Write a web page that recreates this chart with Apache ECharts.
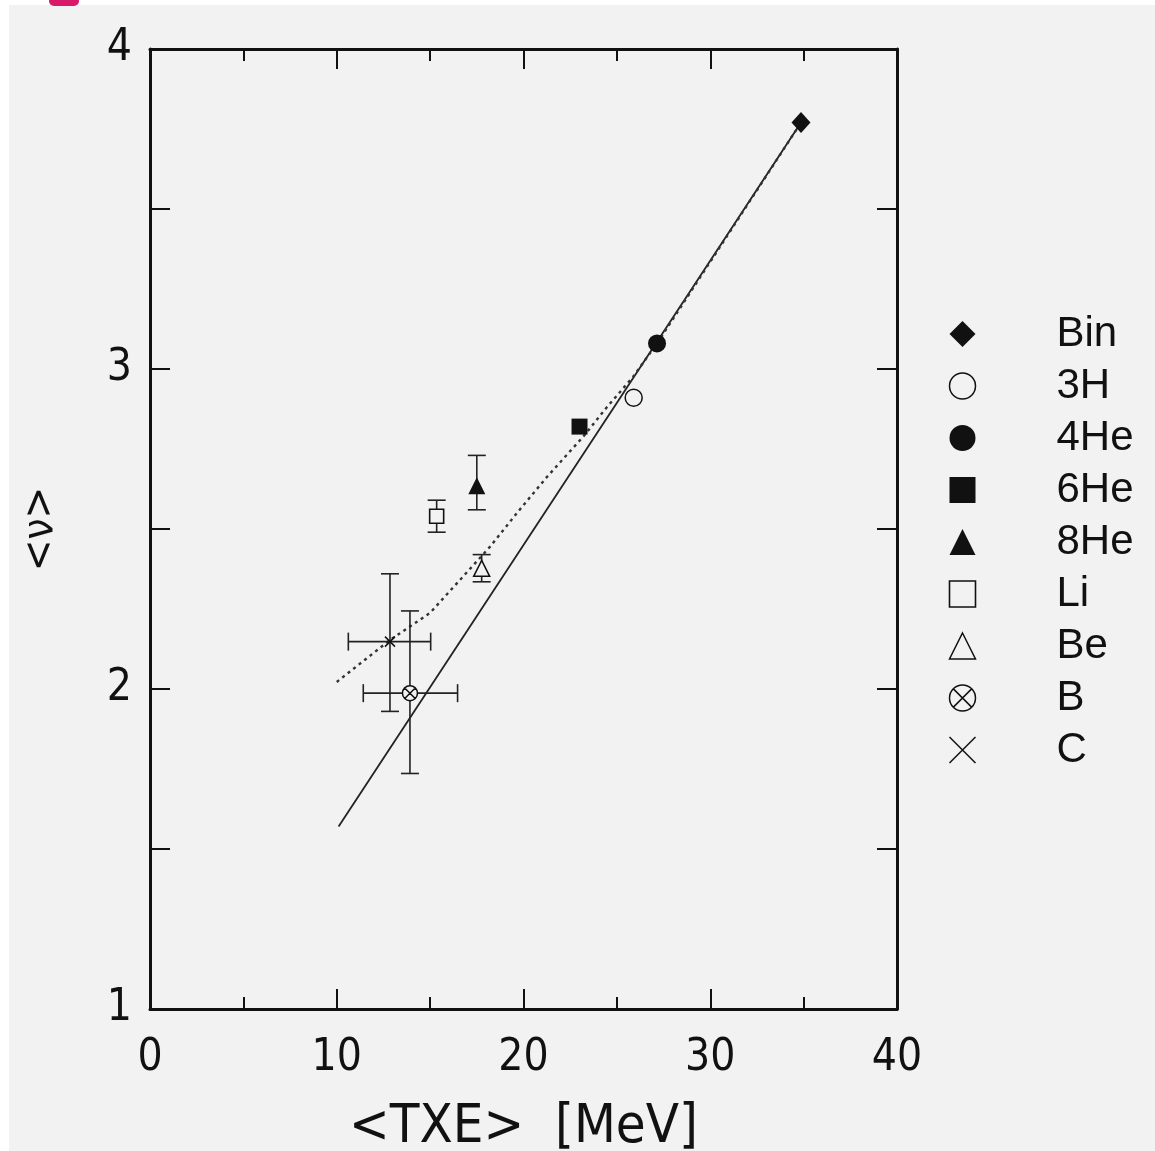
<!DOCTYPE html>
<html>
<head>
<meta charset="utf-8">
<script src="https://cdn.jsdelivr.net/npm/echarts@6/dist/echarts.min.js"></script>
<style>
html,body{margin:0;padding:0;background:#fff;}
#chart{width:1155px;height:1151px;}
</style>
</head>
<body>
<div id="chart"></div>
<script>
// ---- data ----
const seriesNames = ['Bin', '3H', '4He', '6He', '8He', 'Li', 'Be', 'B', 'C'];
const xVals  = [34.86, 25.9, 27.15, 23.0, 17.5, 15.35, 17.76, 13.92, 12.85];
const yVals  = [3.77, 2.91, 3.08, 2.82, 2.635, 2.54, 2.377, 1.987, 2.148];
const yLow   = [null, null, null, null, 2.56, 2.49, 2.335, 1.736, 1.93];
const yHigh  = [null, null, null, null, 2.73, 2.59, 2.42, 2.244, 2.36];
const xLow   = [null, null, null, null, null, null, null, 11.42, 10.62];
const xHigh  = [null, null, null, null, null, null, null, 16.47, 15.03];

const solidLineX = [10.1, 34.86];
const solidLineY = [1.57, 3.77];
const dottedLineX = [10.0, 12.85, 15.0, 18.2, 19.65, 21.26, 23.19, 24.47, 25.86, 27.15, 34.86];
const dottedLineY = [2.022, 2.153, 2.238, 2.444, 2.55, 2.663, 2.788, 2.881, 2.975, 3.08, 3.77];

const xTicks = [0, 10, 20, 30, 40];
const yTickLabels = [1, 2, 3, 4];

// ---- styling ----
const BG = '#f2f2f2';
const INK = '#111';
const axisFont = "'Liberation Sans Narrow', 'DejaVu Sans Condensed', 'Liberation Sans', sans-serif";
const legendFont = "'Liberation Sans', Arial, sans-serif";

const symbolDefs = {
  'Bin': {symbol: 'diamond', size: [19, 21], fill: INK, border: INK, bw: 0},
  '3H':  {symbol: 'circle', size: 17, fill: BG, border: INK, bw: 1.5},
  '4He': {symbol: 'circle', size: 18, fill: INK, border: INK, bw: 0},
  '6He': {symbol: 'rect', size: 16, fill: INK, border: INK, bw: 0},
  '8He': {symbol: 'triangle', size: 17, fill: INK, border: INK, bw: 0},
  'Li':  {symbol: 'rect', size: 14, fill: BG, border: INK, bw: 1.6},
  'Be':  {symbol: 'triangle', size: 16, fill: BG, border: INK, bw: 1.5},
  'B':   {symbol: 'path://M0,-10A10,10 0 1,1 0,10A10,10 0 1,1 0,-10Z M-7,-7L7,7 M7,-7L-7,7', size: 15, fill: BG, border: INK, bw: 1.5},
  'C':   {symbol: 'path://M-10,-10L10,10 M10,-10L-10,10', size: 10, fill: 'none', border: INK, bw: 1.5}
};

const errData = seriesNames.map((n, i) => [xVals[i], yVals[i], yLow[i], yHigh[i], xLow[i], xHigh[i]]);

function renderErr(params, api) {
  const x = api.value(0), y = api.value(1);
  const yl = api.value(2), yh = api.value(3), xl = api.value(4), xh = api.value(5);
  const children = [];
  const cap = 9;
  const style = {stroke: '#222', lineWidth: 1.6};
  const hasY = yl != null && !isNaN(yl) && yh != null && !isNaN(yh);
  const hasX = xl != null && !isNaN(xl) && xh != null && !isNaN(xh);
  if (hasY) {
    const p1 = api.coord([x, yl]), p2 = api.coord([x, yh]);
    children.push({type: 'line', shape: {x1: p1[0], y1: p1[1], x2: p2[0], y2: p2[1]}, style});
    children.push({type: 'line', shape: {x1: p1[0] - cap, y1: p1[1], x2: p1[0] + cap, y2: p1[1]}, style});
    children.push({type: 'line', shape: {x1: p2[0] - cap, y1: p2[1], x2: p2[0] + cap, y2: p2[1]}, style});
  }
  if (hasX) {
    const p1 = api.coord([xl, y]), p2 = api.coord([xh, y]);
    children.push({type: 'line', shape: {x1: p1[0], y1: p1[1], x2: p2[0], y2: p2[1]}, style});
    children.push({type: 'line', shape: {x1: p1[0], y1: p1[1] - cap, x2: p1[0], y2: p1[1] + cap}, style});
    children.push({type: 'line', shape: {x1: p2[0], y1: p2[1] - cap, x2: p2[0], y2: p2[1] + cap}, style});
  }
  return {type: 'group', children};
}

const scatterSeries = seriesNames.map((n, i) => {
  const d = symbolDefs[n];
  return {
    name: n,
    type: 'scatter',
    data: [[xVals[i], yVals[i]]],
    symbol: d.symbol,
    symbolSize: d.size,
    symbolKeepAspect: true,
    z: 5,
    itemStyle: {color: d.fill, borderColor: d.border, borderWidth: d.bw, opacity: 1},
    emphasis: {disabled: true}
  };
});

const chart = echarts.init(document.getElementById('chart'), null, {renderer: 'canvas'});

const axisLineStyle = {color: INK, width: 3};
const tickStyle = {color: INK, width: 2};

const option = {
  backgroundColor: BG,
  animation: false,
  graphic: [
    {type: 'rect', left: 0, top: 0, shape: {width: 1155, height: 5}, style: {fill: '#fff'}, z: 0},
    {type: 'rect', left: 0, top: 0, shape: {width: 9, height: 1151}, style: {fill: '#fff'}, z: 0},
    {type: 'rect', shape: {x: 49, y: -12, width: 30, height: 18, r: 5}, style: {fill: '#d8196a'}, z: 1}
  ],
  grid: {left: 150, right: 258, top: 49, bottom: 142, show: false, containLabel: false, outerBoundsMode: 'none'},
  legend: {
    orient: 'vertical',
    left: 942,
    top: 308,
    itemWidth: 26,
    itemHeight: 26,
    itemGap: 10,
    selectedMode: false,
    textStyle: {fontSize: 42, fontFamily: legendFont, color: INK, padding: [0, 0, 0, 76]},
    data: seriesNames.map(n => {
      const d = symbolDefs[n];
      return {
        name: n,
        icon: d.symbol,
        itemStyle: {color: d.fill, borderColor: d.border, borderWidth: d.bw}
      };
    })
  },
  xAxis: [
    {
      type: 'value', min: 0, max: 40, interval: 10, position: 'bottom',
      name: '<TXE>  [MeV]', nameLocation: 'middle', nameGap: 92,
      nameTextStyle: {fontSize: 54, fontFamily: axisFont, color: INK},
      axisLine: {show: true, onZero: false, lineStyle: axisLineStyle},
      axisTick: {show: true, inside: true, length: 20, lineStyle: tickStyle},
      minorTick: {show: true, splitNumber: 2, length: 12, lineStyle: tickStyle},
      splitLine: {show: false},
      axisLabel: {fontSize: 44, fontFamily: axisFont, color: INK, margin: 28,
        formatter: v => xTicks.indexOf(v) >= 0 ? String(v) : ''}
    },
    {
      type: 'value', min: 0, max: 40, interval: 10, position: 'top',
      axisLine: {show: true, onZero: false, lineStyle: axisLineStyle},
      axisTick: {show: true, inside: true, length: 20, lineStyle: tickStyle},
      minorTick: {show: true, splitNumber: 2, length: 12, lineStyle: tickStyle},
      splitLine: {show: false},
      axisLabel: {show: false}
    }
  ],
  yAxis: [
    {
      type: 'value', min: 1, max: 4, interval: 0.5, position: 'left',
      name: '<ν>', nameLocation: 'middle', nameGap: 88, nameRotate: 90,
      nameTextStyle: {fontSize: 42, fontFamily: axisFont, color: INK},
      axisLine: {show: true, onZero: false, lineStyle: axisLineStyle},
      axisTick: {show: true, inside: true, length: 20, lineStyle: tickStyle},
      splitLine: {show: false},
      axisLabel: {fontSize: 44, fontFamily: axisFont, color: INK, margin: 18,
        formatter: v => yTickLabels.indexOf(v) >= 0 ? String(v) : ''}
    },
    {
      type: 'value', min: 1, max: 4, interval: 0.5, position: 'right',
      axisLine: {show: true, onZero: false, lineStyle: axisLineStyle},
      axisTick: {show: true, inside: true, length: 20, lineStyle: tickStyle},
      splitLine: {show: false},
      axisLabel: {show: false}
    }
  ],
  series: [
    {
      name: 'fit-solid', type: 'line', data: solidLineX.map((x, i) => [x, solidLineY[i]]),
      showSymbol: false, symbol: 'none', z: 2, silent: true,
      lineStyle: {color: '#222', width: 1.8, type: 'solid'}
    },
    {
      name: 'fit-dotted', type: 'line', data: dottedLineX.map((x, i) => [x, dottedLineY[i]]),
      showSymbol: false, symbol: 'none', z: 2, silent: true,
      lineStyle: {color: '#333', width: 2.4, type: [3, 4]}
    },
    {
      name: 'errors', type: 'custom', renderItem: renderErr, data: errData, z: 3, silent: true,
      encode: {x: 0, y: 1}
    },
    ...scatterSeries
  ]
};
chart.setOption(option);
</script>
</body>
</html>
